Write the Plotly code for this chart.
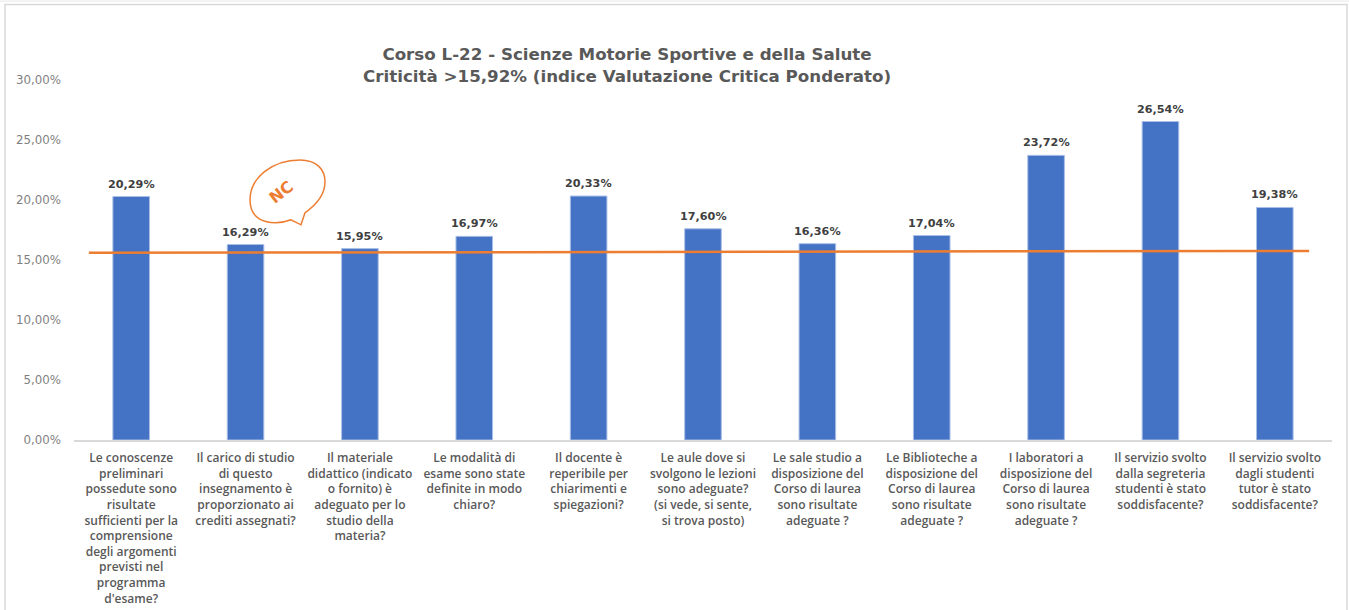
import re
import plotly.graph_objects as go

categories = [
    "Le conoscenze<br>preliminari<br>possedute sono<br>risultate<br>sufficienti per la<br>comprensione<br>degli argomenti<br>previsti nel<br>programma<br>d'esame?",
    "Il carico di studio<br>di questo<br>insegnamento è<br>proporzionato ai<br>crediti assegnati?",
    "Il materiale<br>didattico (indicato<br>o fornito) è<br>adeguato per lo<br>studio della<br>materia?",
    "Le modalità di<br>esame sono state<br>definite in modo<br>chiaro?",
    "Il docente è<br>reperibile per<br>chiarimenti e<br>spiegazioni?",
    "Le aule dove si<br>svolgono le lezioni<br>sono adeguate?<br>(si vede, si sente,<br>si trova posto)",
    "Le sale studio a<br>disposizione del<br>Corso di laurea<br>sono risultate<br>adeguate ?",
    "Le Biblioteche a<br>disposizione del<br>Corso di laurea<br>sono risultate<br>adeguate ?",
    "I laboratori a<br>disposizione del<br>Corso di laurea<br>sono risultate<br>adeguate ?",
    "Il servizio svolto<br>dalla segreteria<br>studenti è stato<br>soddisfacente?",
    "Il servizio svolto<br>dagli studenti<br>tutor è stato<br>soddisfacente?",
]
positions = list(range(11))
values = [20.29, 16.29, 15.95, 16.97, 20.33, 17.60, 16.36, 17.04, 23.72, 26.54, 19.38]
value_labels = ["20,29%", "16,29%", "15,95%", "16,97%", "20,33%", "17,60%", "16,36%", "17,04%", "23,72%", "26,54%", "19,38%"]
trend_x = [-0.37, 10.3]
trend_y = [15.6, 15.76]
y_ticks = [0, 5, 10, 15, 20, 25, 30]
y_tick_labels = ["0,00%", "5,00%", "10,00%", "15,00%", "20,00%", "25,00%", "30,00%"]

W, H = 1349, 610
L, R, T, B = 74, 1332, 80, 440.5
def px(x): return (x - L) / (R - L)
def py(y): return (B - y) / (B - T)

fig = go.Figure()
fig.add_bar(x=positions, y=values, width=0.32,
            marker=dict(color="#4472C4", line=dict(color="#A9BFE6", width=1)))
fig.add_scatter(x=trend_x, y=trend_y, mode="lines", line=dict(color="#ED7D31", width=2.5), cliponaxis=False)

for xv, yv, lab in zip(positions, values, value_labels):
    fig.add_annotation(x=xv, y=yv, text=lab, showarrow=False, yanchor="bottom", yshift=4,
                       font=dict(family="DejaVu Sans", size=11.2, color="#404040", weight=700))

path = ("M 250 200 C 250 178 272 160 300 160 C 317 160 325 170 325 182 "
        "C 325 196 315 206 305 213 L 301 225 L 291 220 C 278 225 250 226 250 200 Z")
out, is_x = [], True
for t in path.split():
    if re.fullmatch(r"[A-Z]", t):
        out.append(t); is_x = True
    else:
        v = float(t)
        out.append(f"{px(v):.5f}" if is_x else f"{py(v):.5f}")
        is_x = not is_x
fig.add_shape(type="path", xref="paper", yref="paper", path=" ".join(out),
              line=dict(color="#ED7D31", width=1.5), fillcolor="rgba(255,255,255,0)")
fig.add_shape(type="rect", xref="paper", yref="paper", x0=px(5), x1=px(1347), y0=py(4.5), y1=py(640),
              line=dict(color="#D9D9D9", width=1.5))
fig.add_shape(type="line", xref="paper", yref="paper", x0=px(0), x1=px(1349), y0=py(1), y1=py(1),
              line=dict(color="#E6E6E6", width=1))
fig.add_annotation(xref="paper", yref="paper", x=px(281), y=py(193), text="<b>NC</b>", showarrow=False,
                   xanchor="center", yanchor="middle", textangle=-38,
                   font=dict(family="DejaVu Sans", size=16, color="#ED7D31", weight=700))

fig.update_layout(
    width=W, height=H, autosize=False,
    margin=dict(l=L, r=W - R, t=T, b=H - B),
    paper_bgcolor="white", plot_bgcolor="white",
    showlegend=False,
    title=dict(text="Corso L-22 - Scienze Motorie Sportive e della Salute<br>Criticità >15,92% (indice Valutazione Critica Ponderato)",
               x=627 / W, xanchor="center", y=1 - 60 / H, yanchor="middle",
               font=dict(family="DejaVu Sans", size=16.7, color="#595959", weight=700)),
    xaxis=dict(range=[-0.5, 10.5], tickmode="array", tickvals=positions, ticktext=categories, tickangle=0,
               showgrid=False, zeroline=False, showline=True, linecolor="#D9D9D9", linewidth=1.5, ticks="",
               ticklabelstandoff=6, automargin=False,
               tickfont=dict(family="Open Sans", size=12, color="#595959", weight=600)),
    yaxis=dict(range=[0, 30], tickmode="array", tickvals=y_ticks, ticktext=y_tick_labels,
               showgrid=False, zeroline=False, showline=False, ticks="",
               ticklabelstandoff=12, automargin=False,
               tickfont=dict(family="DejaVu Sans", size=11.8, color="#7F7F7F")),
)
fig.write_html("out.html", post_script="document.body.style.margin='0';", config=dict(displayModeBar=False))
